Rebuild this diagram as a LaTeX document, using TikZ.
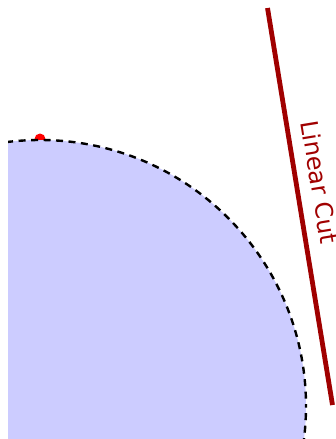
\documentclass[tikz,border=0pt]{standalone}
\usepackage{fontspec}
\newfontfamily\cutfont{DejaVu Sans}
\definecolor{cutred}{RGB}{160,0,0}
\definecolor{discblue}{RGB}{204,204,255}
\tikzset{
  disc/.style={fill=discblue},
  rim/.style={draw=black, line width=2.4pt, dash pattern=on 7pt off 5.5pt, dash phase=5.3pt},
  cutline/.style={draw=cutred, line width=4.8pt},
  cutlabel/.style={text=cutred, font=\cutfont\fontsize{24}{28}\selectfont, sloped, above=8.3pt},
  reddot/.style={circle, fill=red, minimum size=11pt, inner sep=0pt}
}
\begin{document}
\begin{tikzpicture}[x=1pt,y=-1pt]
\useasboundingbox (0,0) rectangle (336,439);
\begin{scope}
\clip (8,0) rectangle (336,439);
\coordinate (c) at (40,406);
\node[reddot] (dot) at (40,139) {};
\fill[disc] (c) circle (266);
\draw[rim] (c) circle (266);
\end{scope}
\coordinate (cutA) at (267.5,8);
\coordinate (cutB) at (332.5,405);
\draw[cutline] (cutA) -- node[cutlabel, pos=0.448] (label) {Linear Cut} (cutB);
\end{tikzpicture}
\end{document}
